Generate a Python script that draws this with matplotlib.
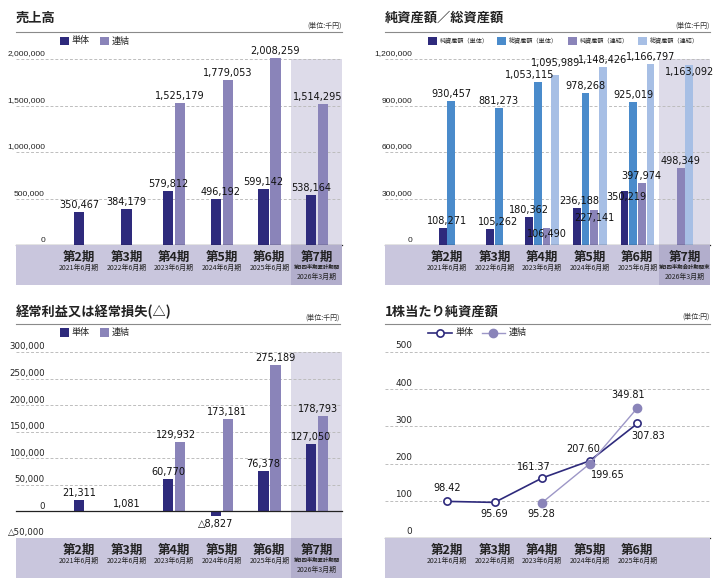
import matplotlib
matplotlib.use("Agg")
import matplotlib.pyplot as plt
from matplotlib import font_manager
from matplotlib.patches import Rectangle
from matplotlib.lines import Line2D

W, H = 720, 584
JP = ['Noto Sans CJK JP', 'DejaVu Sans']
NUM = ['DejaVu Sans']
installed = {f.name for f in font_manager.fontManager.ttflist}
if 'Liberation Sans Narrow' in installed:
    NARROW, NARROW_FS = ['Liberation Sans Narrow'], 6.6
else:
    NARROW, NARROW_FS = ['Liberation Sans', 'DejaVu Sans'], 6.0

# ---- data ----
periods = ["第2期", "第3期", "第4期", "第5期", "第6期", "第7期"]
dates = ["2021年6月期", "2022年6月期", "2023年6月期", "2024年6月期", "2025年6月期", "2026年3月期"]
note_sales = "第3四半期累計期間"
note_assets = "第3四半期会計期間末"

sales_single = [350467, 384179, 579812, 496192, 599142, 538164]
sales_consol = [None, None, 1525179, 1779053, 2008259, 1514295]
sales_ticks = [0, 500000, 1000000, 1500000, 2000000]

net_single = [108271, 105262, 180362, 236188, 350219, None]
total_single = [930457, 881273, 1053115, 978268, 925019, None]
net_consol = [None, None, 106490, 227141, 397974, 498349]
total_consol = [None, None, 1095989, 1148426, 1166797, 1163092]
asset_ticks = [0, 300000, 600000, 900000, 1200000]

ord_single = [21311, 1081, 60770, -8827, 76378, 127050]
ord_consol = [None, None, 129932, 173181, 275189, 178793]
ord_ticks = [-50000, 0, 50000, 100000, 150000, 200000, 250000, 300000]

bps_periods = periods[:5]
bps_single = [98.42, 95.69, 161.37, 207.60, 307.83]
bps_consol = [None, None, 95.28, 199.65, 349.81]
bps_ticks = [0, 100, 200, 300, 400, 500]

# ---- style ----
NAVY = "#2e2a7c"
LAV = "#8a84b9"
LAVLINE = "#9d97c7"
BLUE = "#4a8bcb"
LBLUE = "#a7bfe5"
BAND = "#c9c6dd"
BAND7 = "#b2aecc"
SHADE = "#dddbe9"
GRID = "#bdbdbd"
STEP = 47.6  # px per period

fig = plt.figure(figsize=(W / 100, H / 100), dpi=100)
fig.patch.set_facecolor("white")


def fx(x):
    return x / W


def fy(y):
    return 1 - y / H


def axes_px(x0, y0, x1, y1):
    ax = fig.add_axes([x0 / W, 1 - y1 / H, (x1 - x0) / W, (y1 - y0) / H])
    ax.set_axis_off()
    return ax


def fmt(v):
    return "△{:,}".format(-v) if v < 0 else "{:,}".format(v)


def header(x0, x1, y_title, y_line, title, unit):
    fig.text(fx(x0), fy(y_title), title, fontsize=9.5, fontweight="bold",
             family=JP, va="center", ha="left", color="#222222")
    fig.add_artist(Line2D([fx(x0), fx(x1)], [fy(y_line)] * 2, color="#8a8a8a", lw=0.8))
    fig.text(fx(x1), fy(y_line - 6.5), unit, fontsize=5, family=JP,
             ha="right", va="center", color="#333333")


def legend_box(x, y, color, label, fs):
    fig.add_artist(Rectangle((fx(x), fy(y + 4.3)), 8.6 / W, 8.6 / H, color=color,
                             lw=0, transform=fig.transFigure))
    fig.text(fx(x + 12), fy(y), label, fontsize=fs, family=JP, va="center",
             ha="left", color="#222222")


def band(x0, x1, c0, yb0, yb1, n, note):
    lo, hi = (x0 - c0) / STEP, (x1 - c0) / STEP
    ax = axes_px(x0, yb0, x1, yb1)
    ax.set_xlim(lo, hi)
    ax.set_ylim(yb1, yb0)  # pixel-like coordinates
    ax.add_patch(Rectangle((lo, yb0), hi - lo, yb1 - yb0, color=BAND, lw=0))
    if note:
        ax.add_patch(Rectangle((4.454, yb0), hi - 4.454, yb1 - yb0, color=BAND7, lw=0))
    for i in range(n):
        ax.text(i, yb0 + 12, periods[i], fontsize=9, fontweight="bold", family=JP,
                ha="center", va="center", color="#222222")
        if i == 5 and note:
            ax.text(i, yb0 + 22, note, fontsize=3.9, fontweight="bold", family=JP,
                    ha="center", va="center", color="#222222")
            ax.text(i, yb0 + 32, dates[i], fontsize=5, family=JP,
                    ha="center", va="center", color="#222222")
        else:
            ax.text(i, yb0 + 22.5, dates[i], fontsize=5, family=JP,
                    ha="center", va="center", color="#222222")


def yticks(x_right, yt, yb, ymin, ymax, ticks, family, fs, dy=5):
    for t in ticks:
        y = yb - (t - ymin) / (ymax - ymin) * (yb - yt)
        fig.text(fx(x_right), fy(y - dy), fmt(t), fontsize=fs, family=family,
                 ha="right", va="center", color="#222222")


def bar_panel(x0, x1, c0, yt, yb, ymin, ymax, ticks, series, colors, bw, bstep, nudges):
    lo, hi = (x0 - c0) / STEP, (x1 - c0) / STEP
    ax = axes_px(x0, yt, x1, yb)
    ax.set_xlim(lo, hi)
    ax.set_ylim(ymin, ymax)
    ax.add_patch(Rectangle((4.454, ymin), hi - 4.454, ymax - ymin, color=SHADE, lw=0, zorder=0))
    for t in ticks:
        if t != 0 and t != ymin:
            ax.axhline(t, color=GRID, lw=0.7, ls=(0, (3, 2)), zorder=1)
    ax.axhline(0, color="#222222", lw=0.9, zorder=4, clip_on=False)
    for g in range(len(periods)):
        present = [k for k in range(len(series)) if series[k][g] is not None]
        n = len(present)
        for j, k in enumerate(present):
            xc = g + (j - (n - 1) / 2) * bstep
            v = series[k][g]
            ax.bar(xc, v, width=bw, color=colors[k], lw=0, zorder=2, clip_on=False)
            dx, dy = nudges.get((k, g), (0, 0))
            base = 7 if v >= 0 else -8
            ax.annotate(fmt(v), (xc, v), xytext=(dx * 0.72, (base + dy) * 0.72),
                        textcoords="offset points", ha="center", va="center",
                        fontsize=7, family=NUM, color="#111111", zorder=5,
                        annotation_clip=False)
    return ax


# ---- 売上高 ----
header(16, 342, 18, 31.7, "売上高", "(単位:千円)")
legend_box(60, 41, NAVY, "単体", 6.5)
legend_box(100, 41, LAV, "連結", 6.5)
bar_panel(16, 342, 79, 59, 245, 0, 2000000, sales_ticks,
          [sales_single, sales_consol], [NAVY, LAV], 0.215, 0.252,
          {(0, 3): (4.5, 0), (1, 5): (-5, 0)})
yticks(45, 59, 245, 0, 2000000, sales_ticks, NARROW, NARROW_FS)
band(16, 342, 79, 245, 285, 6, note_sales)

# ---- 純資産額／総資産額 ----
header(385, 710, 18, 31.7, "純資産額／総資産額", "(単位:千円)")
legend_box(428, 41, NAVY, "純資産額（単体）", 4.4)
legend_box(497, 41, BLUE, "総資産額（単体）", 4.4)
legend_box(568, 41, LAV, "純資産額（連結）", 4.4)
legend_box(638, 41, LBLUE, "総資産額（連結）", 4.4)
bar_panel(385, 710, 447, 59, 245, 0, 1200000, asset_ticks,
          [net_single, total_single, net_consol, total_consol],
          [NAVY, BLUE, LAV, LBLUE], 0.16, 0.181,
          {(0, 0): (4.5, 0), (0, 1): (8, 0), (1, 2): (-8.5, 0), (3, 2): (0, 5),
           (2, 2): (0, -13), (0, 3): (2.5, 0), (2, 3): (0, -15),
           (0, 4): (2, -13), (3, 5): (0, -14)})
yticks(412, 59, 245, 0, 1200000, asset_ticks, NARROW, NARROW_FS)
band(385, 710, 447, 245, 285, 6, note_assets)

# ---- 経常利益又は経常損失(△) ----
header(16, 340, 312, 324, "経常利益又は経常損失(△)", "(単位:千円)")
legend_box(60, 332.5, NAVY, "単体", 6.5)
legend_box(100, 332.5, LAV, "連結", 6.5)
bar_panel(16, 342, 79, 352, 538, -50000, 300000, ord_ticks,
          [ord_single, ord_consol], [NAVY, LAV], 0.215, 0.252,
          {(1, 2): (-4, 0), (1, 3): (-1, 0), (1, 5): (-5, 0)})
yticks(45, 352, 538, -50000, 300000, ord_ticks, NUM, 6.2)
band(16, 342, 79, 538, 578, 6, note_sales)

# ---- 1株当たり純資産額 ----
header(385, 710, 312, 323.5, "1株当たり純資産額", "(単位:円)")
ax = axes_px(385, 352, 710, 538)
lo, hi = (385 - 447) / STEP, (710 - 447) / STEP
ax.set_xlim(lo, hi)
ax.set_ylim(0, 500)
for t in bps_ticks[1:]:
    ax.axhline(t, color=GRID, lw=0.7, ls=(0, (3, 2)), zorder=1)
ax.axhline(0, color="#222222", lw=0.9, zorder=4, clip_on=False)
xs = list(range(len(bps_periods)))
ax.plot(xs, bps_single, color=NAVY, lw=1.2, marker="o", ms=5.2, mfc="white",
        mec=NAVY, mew=1.2, zorder=3, clip_on=False)
cx = [i for i in xs if bps_consol[i] is not None]
cy = [bps_consol[i] for i in cx]
ax.plot(cx, cy, color=LAVLINE, lw=1.0, marker="o", ms=6, mfc=LAV, mec=LAV,
        zorder=3.5, clip_on=False)
single_off = [(0, 13), (0, -12), (-8, 11), (-7, 12), (11, -13)]
consol_off = [None, None, (-1, -11), (18, -11), (-9, 13)]
for i in xs:
    dx, dy = single_off[i]
    ax.annotate("{:.2f}".format(bps_single[i]), (i, bps_single[i]),
                xytext=(dx * 0.72, dy * 0.72), textcoords="offset points",
                ha="center", va="center", fontsize=7, family=NUM, color="#111111")
for i in cx:
    dx, dy = consol_off[i]
    ax.annotate("{:.2f}".format(bps_consol[i]), (i, bps_consol[i]),
                xytext=(dx * 0.72, dy * 0.72), textcoords="offset points",
                ha="center", va="center", fontsize=7, family=NUM, color="#111111")
yticks(412, 352, 538, 0, 500, bps_ticks, NUM, 6.4, dy=6)
band(385, 710, 447, 538, 578, 5, None)

# line legend
fig.add_artist(Line2D([fx(428), fx(440), fx(452)], [fy(332.7)] * 3, color=NAVY, lw=1.2,
                      marker="o", markevery=[1], ms=5.2, mfc="white", mec=NAVY,
                      mew=1.2, transform=fig.transFigure))
fig.add_artist(Line2D([fx(482), fx(493), fx(505)], [fy(332.7)] * 3, color=LAVLINE, lw=1.0,
                      marker="o", markevery=[1], ms=6, mfc=LAV, mec=LAV,
                      transform=fig.transFigure))
fig.text(fx(456), fy(332.7), "単体", fontsize=6.5, family=JP, va="center", color="#222222")
fig.text(fx(509), fy(332.7), "連結", fontsize=6.5, family=JP, va="center", color="#222222")

fig.savefig("out.png", dpi=100, facecolor="white")
